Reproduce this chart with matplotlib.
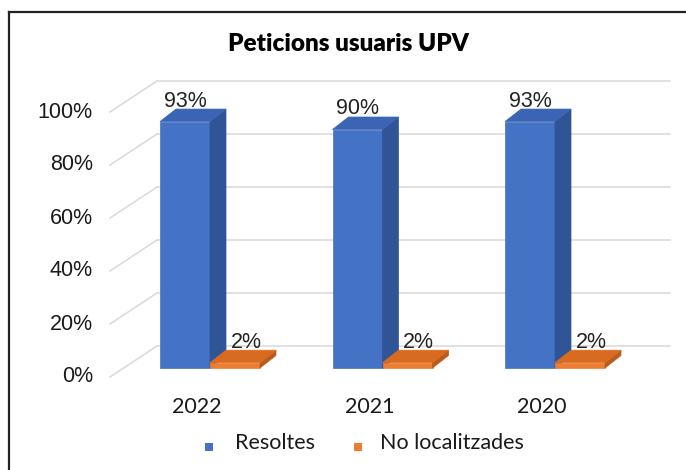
"""Peticions usuaris UPV - 3D style column chart rebuilt with plain matplotlib."""

import matplotlib

matplotlib.use("Agg")
import matplotlib.pyplot as plt
from matplotlib.lines import Line2D
from matplotlib.patches import Polygon, Rectangle

# --- data -------------------------------------------------------------------
years = ["2022", "2021", "2020"]
resoltes = [93, 90, 93]
no_localitzades = [2, 2, 2]
y_ticks = [0, 20, 40, 60, 80, 100]
series_names = ["Resoltes", "No localitzades"]

# --- styling ----------------------------------------------------------------
BLUE = ("#4472C4", "#2F5597", "#3B65B4")     # front, side, top
ORANGE = ("#ED7D31", "#B85C1E", "#D96B20")
GRID = "#D9D9D9"

W, H, DPI = 686, 470, 100
# pixel geometry of the original chart
X0, STEP = 210.0, 172.5          # centre of first pair, spacing between years
Y0, SCALE = 368.0, 2.65          # baseline pixel row, pixels per percent
px_x = 1.0 / STEP                # one pixel in x data units
px_y = 1.0 / SCALE               # one pixel in y data units

bar_w = 50 * px_x
depth_x, depth_y = 16 * px_x, 12.5 * px_y
wall_front = (-100 * px_x, -9 * px_y)    # left wall front edge (x, y shift)
wall_back = (-53 * px_x, 22 * px_y)      # back wall corner
wall_right = 460 * px_x

fig = plt.figure(figsize=(W / DPI, H / DPI), dpi=DPI)
ax = fig.add_axes([0, 0, 1, 1])
ax.set_xlim(-X0 * px_x, (W - X0) * px_x)
ax.set_ylim((Y0 - H) * px_y, Y0 * px_y)
ax.axis("off")

# back wall gridlines and slanted side-wall lines
for v in y_ticks:
    ax.plot([wall_back[0], wall_right], [v + wall_back[1]] * 2,
            color=GRID, lw=1.1, zorder=1)
    ax.plot([wall_front[0], wall_back[0]],
            [v + wall_front[1], v + wall_back[1]], color=GRID, lw=1.1, zorder=1)
    ax.text(wall_front[0] - 17 * px_x, v + wall_front[1], f"{v}%",
            ha="right", va="center", fontsize=15.5,
            family="Liberation Sans", color="#1a1a1a")


def box(x_left, value, colors, z):
    """Front face via ax.bar, plus side and top parallelograms."""
    front, side, top = colors
    ax.bar(x_left, value, width=bar_w, align="edge", color=front,
           edgecolor=front, lw=0.5, zorder=z)
    xr = x_left + bar_w
    ax.add_patch(Polygon([(xr, 0), (xr + depth_x, depth_y),
                          (xr + depth_x, value + depth_y), (xr, value)],
                         closed=True, fc=side, ec=side, lw=0.5, zorder=z))
    ax.add_patch(Polygon([(x_left, value), (x_left + depth_x, value + depth_y),
                          (xr + depth_x, value + depth_y), (xr, value)],
                         closed=True, fc=top, ec=top, lw=0.5, zorder=z))


for i, (year, r, n) in enumerate(zip(years, resoltes, no_localitzades)):
    box(i - bar_w, r, BLUE, 3 + 2 * i)
    box(i, n, ORANGE, 4 + 2 * i)
    ax.text(i - bar_w / 2, r + depth_y + 8 * px_y, f"{r}%", ha="center",
            va="center", fontsize=15.5, family="Liberation Sans",
            color="#222222", zorder=10)
    ax.text(i + bar_w / 2 + 11 * px_x, n + depth_y + 8 * px_y, f"{n}%",
            ha="center", va="center", fontsize=15.5, family="Liberation Sans",
            color="#222222", zorder=10)
    ax.text(i - 13 * px_x, -39 * px_y, year, ha="center", va="center",
            fontsize=15.5, family="Lato", color="#1a1a1a")

# title
fig.text(348 / W, 1 - 44 / H, "Peticions usuaris UPV", ha="center",
         va="center", fontsize=17.5, fontweight="heavy", family="Lato")

# legend
for name, color, sq_x, tx_x in zip(series_names, (BLUE[0], ORANGE[0]),
                                    (209, 358), (235, 380)):
    fig.add_artist(Rectangle(((sq_x - 4) / W, 1 - 451 / H), 8 / W, 8 / H,
                             transform=fig.transFigure, fc=color, ec="none"))
    fig.text(tx_x / W, 1 - 443 / H, name, ha="left", va="center",
             fontsize=15.5, family="Lato", color="#1a1a1a")

# chart border (top and left edges only are visible in the source)
fig.add_artist(Line2D([9 / W, 1], [1 - 12 / H] * 2, transform=fig.transFigure,
                      color="#222222", lw=1.6))
fig.add_artist(Line2D([9 / W] * 2, [0, 1 - 12 / H], transform=fig.transFigure,
                      color="#222222", lw=1.6))

fig.savefig("out.png", dpi=DPI)
